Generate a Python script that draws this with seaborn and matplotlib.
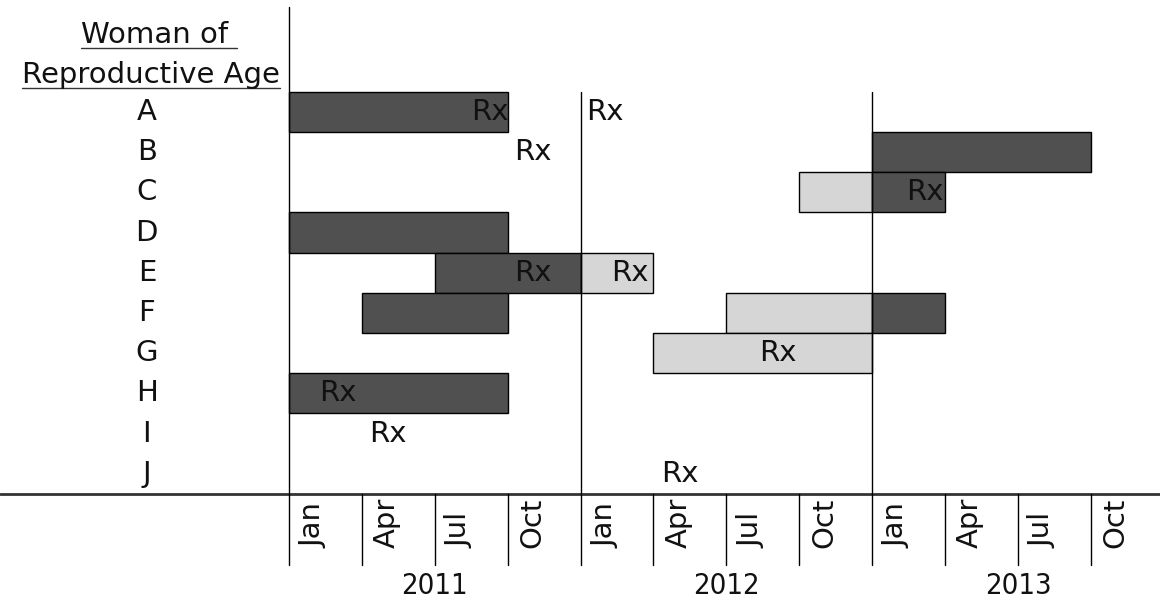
import matplotlib
matplotlib.use("Agg")
import matplotlib.pyplot as plt
import seaborn as sns
import pandas as pd
from matplotlib import font_manager

# rows and calendar
women = ["A", "B", "C", "D", "E", "F", "G", "H", "I", "J"]
months = ["Jan", "Apr", "Jul", "Oct"] * 3
years = ["2011", "2012", "2013"]

# exposure periods, in quarters counted from Jan 2011
seg_woman = ["A", "B", "C", "C", "D", "E", "E", "F", "F", "F", "G", "H"]
seg_start = [0, 8, 7, 8, 0, 2, 4, 1, 6, 8, 5, 0]
seg_end = [3, 11, 8, 9, 3, 4, 5, 3, 8, 9, 8, 3]
seg_kind = ["dark", "dark", "light", "dark", "dark", "dark", "light",
            "dark", "light", "dark", "light", "dark"]

# prescription marks
rx_woman = ["A", "A", "B", "C", "E", "E", "G", "H", "I", "J"]
rx_pos = [2.76, 4.33, 3.35, 8.72, 3.35, 4.68, 6.71, 0.67, 1.36, 5.36]

sns.set_style("white")
plt.rcParams["font.family"] = ["DejaVu Sans"]

# a narrow face for the year labels, if one is around
fonts = font_manager.fontManager.ttflist
names = {f.name for f in fonts}
year_kw = {"family": "Liberation Sans", "fontsize": 20}
if "Liberation Sans Narrow" in names:
    year_kw = {"family": "Liberation Sans Narrow", "fontsize": 22}
elif any(f.name == "DejaVu Sans" and "ondensed" in str(f.stretch) for f in fonts):
    year_kw = {"family": "DejaVu Sans", "fontstretch": "condensed", "fontsize": 21}

colors = {"dark": "#505050", "light": "#d6d6d6"}
FS = 21
INK = "#111111"

df = pd.DataFrame({"woman": seg_woman, "start": seg_start, "end": seg_end, "kind": seg_kind})
df["row"] = df["woman"].map(women.index)

fig = plt.figure(figsize=(11.6, 6.04), dpi=100)
ax = fig.add_axes([0, 0, 1, 1])
ax.set_axis_off()
ax.set_xlim(-3.964, 11.948)
ax.set_ylim(12.239, -2.786)

for _, r in df.iterrows():
    ax.barh(r["row"], r["end"] - r["start"], left=r["start"], height=1.0,
            color=colors[r["kind"]], edgecolor="black", linewidth=1.0, zorder=2)

for w, x in zip(rx_woman, rx_pos):
    ax.text(x, women.index(w), "Rx", fontsize=FS, ha="center", va="center",
            color=INK, zorder=4)

# row labels
for i, w in enumerate(women):
    ax.text(-1.95, i, w, fontsize=FS, ha="center", va="center", color=INK)

# header
h1 = ax.text(-1.78, -1.92, "Woman of ", fontsize=FS, ha="center", va="center", color=INK)
h2 = ax.text(-1.89, -0.92, "Reproductive Age", fontsize=FS, ha="center", va="center", color=INK)

# grid lines
ax.axhline(9.5, color="#333333", linewidth=2.0, zorder=3)
ax.plot([0, 0], [-2.6, 11.27], color="black", linewidth=1.0, zorder=3)
for q in [4, 8]:
    ax.plot([q, q], [-0.5, 11.27], color="black", linewidth=1.0, zorder=3)
for q in range(1, 12):
    if q in (4, 8):
        continue
    ax.plot([q, q], [9.5, 11.27], color="black", linewidth=1.0, zorder=3)

for q, m in enumerate(months):
    ax.text(q + 0.34, 10.85, m, fontsize=FS, rotation=90, ha="center", va="bottom",
            color=INK)

for k, y in enumerate(years):
    ax.text(4 * k + 2, 11.8, y, ha="center", va="center", color=INK, **year_kw)

# underline the header
fig.canvas.draw()
inv = ax.transData.inverted()
for t in (h1, h2):
    bb = t.get_window_extent()
    (x0, y0), (x1, _) = inv.transform([(bb.x0, bb.y0), (bb.x1, bb.y1)])
    ax.plot([x0, x1], [y0 - 0.02, y0 - 0.02], color="#333333", linewidth=1.0)

fig.savefig("out.png", dpi=100)
